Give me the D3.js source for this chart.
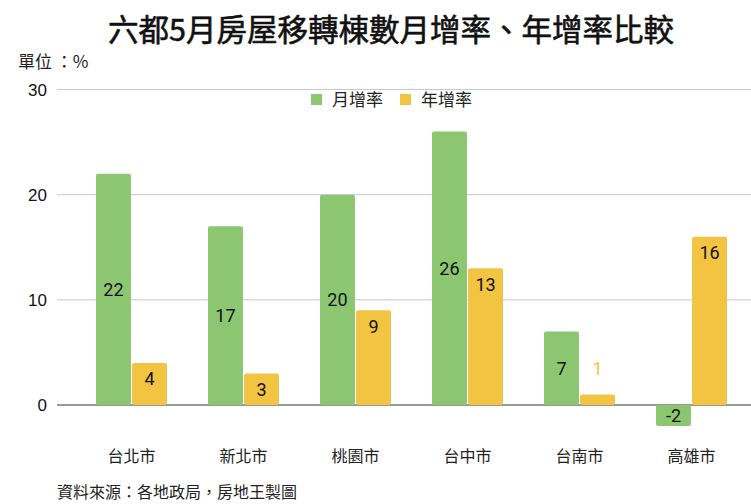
<!DOCTYPE html>
<html>
<head>
<meta charset="utf-8">
<script src="https://cdn.jsdelivr.net/npm/d3@7"></script>
<style>
body{margin:0;background:#fff;}
text{font-family:"Liberation Sans","Noto Sans CJK TC",sans-serif;}
</style>
</head>
<body>
<script>
var width=751;
var height=504;

// chart data
var cities=["台北市","新北市","桃園市","台中市","台南市","高雄市"];
var seriesNames=["月增率","年增率"];
var monthRate=[22,17,20,26,7,-2];
var yearRate=[4,3,9,13,1,16];
var yTicks=[0,10,20,30];
var colors=["#8cc671","#f3c342"];

var svg=d3.select("body").append("svg").attr("width",width).attr("height",height);
svg.append("rect").attr("width",width).attr("height",height).attr("fill","#fff");

var y=d3.scaleLinear().domain([0,30]).range([405,89.5]);
var x0=d3.scaleBand().domain(cities).range([75.5,747.5]);
var x1=d3.scaleBand().domain(seriesNames).range([20.5,91.5]).paddingInner(0.03);

// title and notes
svg.append("text").attr("x",391).attr("y",41).attr("text-anchor","middle")
	.attr("font-size",30.5).attr("font-weight",400).attr("fill","#111")
	.attr("stroke","#111").attr("stroke-width",0.6)
	.style("font-family","'Noto Sans CJK TC',sans-serif").text("六都5月房屋移轉棟數月增率、年增率比較");
svg.append("text").attr("x",18).attr("y",68).attr("font-size",17).attr("fill","#222")
	.style("font-family","'Noto Sans CJK TC',sans-serif").text("單位 ：%");
svg.append("text").attr("x",57).attr("y",498).attr("font-size",16).attr("fill","#222")
	.style("font-family","'Noto Sans CJK TC',sans-serif").text("資料來源：各地政局，房地王製圖");

// grid and y ticks
yTicks.forEach(function(t){
	svg.append("line").attr("x1",57).attr("x2",width).attr("y1",y(t)).attr("y2",y(t))
		.attr("stroke",t==0?"#333":"#c8c8c8").attr("stroke-width",t==0?1.2:1);
	svg.append("text").attr("x",47).attr("y",y(t)).attr("dy","0.36em").attr("text-anchor","end")
		.attr("font-size",17).attr("fill","#111").text(t);
});

// legend
seriesNames.forEach(function(s,i){
	var lx=311+i*89;
	svg.append("rect").attr("x",lx).attr("y",94).attr("width",11).attr("height",11).attr("fill",colors[i]);
	svg.append("text").attr("x",lx+21).attr("y",100).attr("dy","0.36em").attr("font-size",17).attr("fill","#222")
		.style("font-family","'Noto Sans CJK TC',sans-serif").text(s);
});

// bars
var rows=cities.map(function(c,i){return {city:c,vals:[monthRate[i],yearRate[i]]};});
var groups=svg.selectAll("g.city").data(rows).enter().append("g").attr("class","city")
	.attr("transform",function(d){return "translate("+x0(d.city)+",0)";});

groups.each(function(d){
	var g=d3.select(this);
	d.vals.forEach(function(v,i){
		var bx=x1(seriesNames[i]);
		var top=Math.min(y(v),y(0));
		var h=Math.abs(y(v)-y(0));
		g.append("rect").attr("x",bx).attr("y",top).attr("width",x1.bandwidth()).attr("height",h)
			.attr("rx",2).attr("fill",colors[i]);
		var ly,fill="#111";
		if(i==0){ly=top+h/2;}
		else if(h>25){ly=top+16;}
		else{ly=top-26;fill=colors[1];}
		g.append("text").attr("x",bx+x1.bandwidth()/2).attr("y",ly).attr("dy","0.36em")
			.attr("text-anchor","middle").attr("font-size",18).attr("fill",fill)
			.style("font-family","Roboto,sans-serif").text(v);
	});
	g.append("text").attr("x",x0.bandwidth()/2).attr("y",456).attr("dy","0.36em").attr("text-anchor","middle")
		.attr("font-size",16).attr("fill","#222").style("font-family","'Noto Sans CJK TC',sans-serif").text(d.city);
});
</script>
</body>
</html>
